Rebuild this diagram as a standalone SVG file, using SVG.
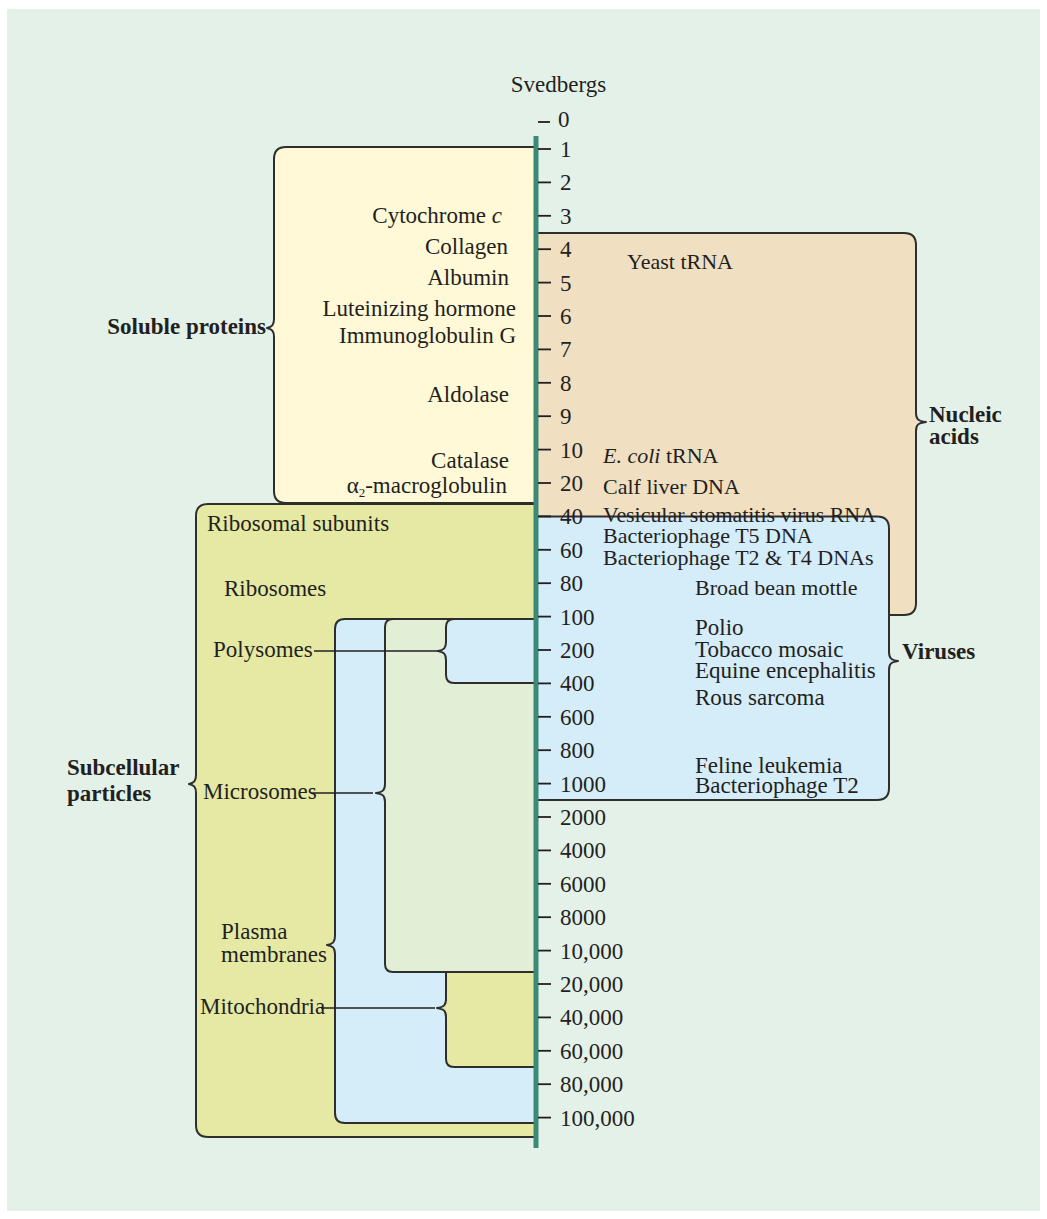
<svg xmlns="http://www.w3.org/2000/svg" width="1047" height="1219" viewBox="0 0 1047 1219">
<style>
text{font-family:"Liberation Serif","Times New Roman",serif;font-size:23px;fill:#231f20}
.b{font-weight:bold}
.r{font-size:22px}
.box{stroke:#2e2e2e;stroke-width:2;stroke-linejoin:round}
.yel{fill:#fff9d7}
.tan{fill:#f0dfc1}
.blu{fill:#d5ecf9}
.olv{fill:#e5e9a4}
.grn{fill:#e2efd6}
.tick{stroke:#231f20;stroke-width:1.8}
.lead{stroke:#231f20;stroke-width:1.6;fill:none}
</style>
<rect x="0" y="0" width="1047" height="1219" fill="#ffffff"/>
<rect x="7" y="9" width="1033" height="1202" fill="#e4f1e9"/>

<g id="soluble-proteins">
<path class="box yel" d="M536,147 L286,147 Q274,147 274,159 L274,319 C274,325 272,327 267,328 C272,329 274,331 274,337 L274,491 Q274,503 286,503 L536,503"/>
<text class="b" x="266" y="334" text-anchor="end">Soluble proteins</text>
<text x="502" y="223" text-anchor="end">Cytochrome <tspan font-style="italic">c</tspan></text>
<text x="508" y="254" text-anchor="end">Collagen</text>
<text x="509" y="285" text-anchor="end">Albumin</text>
<text x="516" y="316" text-anchor="end">Luteinizing hormone</text>
<text x="516" y="343" text-anchor="end">Immunoglobulin G</text>
<text x="509" y="402" text-anchor="end">Aldolase</text>
<text x="509" y="468" text-anchor="end">Catalase</text>
<text x="507" y="493" text-anchor="end">α<tspan font-size="13" dy="4">2</tspan><tspan dy="-4">-macroglobulin</tspan></text>
</g>

<g id="nucleic-acids">
<path class="box tan" d="M536,233 L904,233 Q916,233 916,245 L916,413 C916,419 918,421 926,422 C918,423 916,425 916,431 L916,603 Q916,615 904,615 L536,615"/>
<text class="b" x="929" y="422">Nucleic</text>
<text class="b" x="929" y="444">acids</text>
<text class="r" x="627" y="269">Yeast tRNA</text>
<text class="r" x="603" y="463"><tspan font-style="italic">E. coli</tspan> tRNA</text>
<text class="r" x="603" y="494">Calf liver DNA</text>
</g>

<g id="viruses">
<path class="box blu" d="M536,516.5 L877,516.5 Q889,516.5 889,528.5 L889,652 C889,658 891,660 898,661 C891,662 889,664 889,670 L889,788 Q889,800 877,800 L536,800"/>
<text class="b" x="902" y="659">Viruses</text>
<text class="r" x="603" y="522" textLength="273">Vesicular stomatitis virus RNA</text>
<text class="r" x="603" y="543">Bacteriophage T5 DNA</text>
<text class="r" x="603" y="565">Bacteriophage T2 &amp; T4 DNAs</text>
<text class="r" x="695" y="595">Broad bean mottle</text>
<text x="695" y="635">Polio</text>
<text x="695" y="657">Tobacco mosaic</text>
<text x="695" y="678">Equine encephalitis</text>
<text x="695" y="705">Rous sarcoma</text>
<text x="695" y="773">Feline leukemia</text>
<text x="695" y="793">Bacteriophage T2</text>
</g>

<g id="subcellular-particles">
<path class="box olv" d="M536,504 L208,504 Q196,504 196,516 L196,775 C196,781 194,783 189,784 C194,785 196,787 196,793 L196,1125 Q196,1137 208,1137 L536,1137"/>
<text class="b" x="67" y="775">Subcellular</text>
<text class="b" x="67" y="801">particles</text>
<text x="207" y="531">Ribosomal subunits</text>
<text x="224" y="596">Ribosomes</text>
</g>

<g id="plasma-membranes">
<path class="box blu" d="M536,619 L345,619 Q335,619 335,629 L335,936 C335,942 333,944 327,945 C333,946 335,948 335,954 L335,1113 Q335,1123 345,1123 L536,1123"/>
<text x="221" y="939">Plasma</text>
<text x="221" y="962">membranes</text>
</g>

<g id="microsomes">
<path class="box grn" d="M536,619 L393,619 Q385,619 385,627 L385,784 C385,790 383,792 376,793 C383,794 385,796 385,802 L385,964 Q385,972 393,972 L536,972"/>
<text x="203" y="799">Microsomes</text>
</g>

<g id="polysomes">
<path class="box blu" d="M536,619 L454,619 Q446,619 446,627 L446,642 C446,648 444,650 438,651 C444,652 446,654 446,660 L446,675 Q446,683 454,683 L536,683"/>
<text x="213" y="657">Polysomes</text>
</g>

<g id="mitochondria">
<path class="box olv" d="M536,972 L446,972 L446,999 C446,1005 444,1007 437,1008 C444,1009 446,1011 446,1017 L446,1059 Q446,1067 454,1067 L536,1067"/>
<text x="200" y="1014">Mitochondria</text>
</g>

<g id="connectors">
<line class="lead" x1="314" y1="651" x2="438" y2="651"/>
<line class="lead" x1="313" y1="793" x2="373" y2="793"/>
<line class="lead" x1="321" y1="1008" x2="435" y2="1008"/>
</g>

<g id="axis">
<rect x="533.5" y="136" width="5" height="1012" fill="#3b8a78"/>
<text x="558.5" y="92" text-anchor="middle">Svedbergs</text>
<line class="tick" x1="538" y1="122" x2="550" y2="122"/>
<text x="558" y="127">0</text>
<g class="tick">
<line x1="538" y1="149" x2="551" y2="149"/>
<line x1="538" y1="182.4" x2="551" y2="182.4"/>
<line x1="538" y1="215.8" x2="551" y2="215.8"/>
<line x1="538" y1="249.2" x2="551" y2="249.2"/>
<line x1="538" y1="282.6" x2="551" y2="282.6"/>
<line x1="538" y1="316" x2="551" y2="316"/>
<line x1="538" y1="349.4" x2="551" y2="349.4"/>
<line x1="538" y1="382.8" x2="551" y2="382.8"/>
<line x1="538" y1="416.2" x2="551" y2="416.2"/>
<line x1="538" y1="449.6" x2="551" y2="449.6"/>
<line x1="538" y1="483" x2="551" y2="483"/>
<line x1="538" y1="516.4" x2="551" y2="516.4"/>
<line x1="538" y1="549.8" x2="551" y2="549.8"/>
<line x1="538" y1="583.2" x2="551" y2="583.2"/>
<line x1="538" y1="616.6" x2="551" y2="616.6"/>
<line x1="538" y1="650" x2="551" y2="650"/>
<line x1="538" y1="683.4" x2="551" y2="683.4"/>
<line x1="538" y1="716.8" x2="551" y2="716.8"/>
<line x1="538" y1="750.2" x2="551" y2="750.2"/>
<line x1="538" y1="783.6" x2="551" y2="783.6"/>
<line x1="538" y1="817" x2="551" y2="817"/>
<line x1="538" y1="850.4" x2="551" y2="850.4"/>
<line x1="538" y1="883.8" x2="551" y2="883.8"/>
<line x1="538" y1="917.2" x2="551" y2="917.2"/>
<line x1="538" y1="950.6" x2="551" y2="950.6"/>
<line x1="538" y1="984" x2="551" y2="984"/>
<line x1="538" y1="1017.4" x2="551" y2="1017.4"/>
<line x1="538" y1="1050.8" x2="551" y2="1050.8"/>
<line x1="538" y1="1084.2" x2="551" y2="1084.2"/>
<line x1="538" y1="1117.6" x2="551" y2="1117.6"/>
</g>
<text x="560" y="157">1</text>
<text x="560" y="190.4">2</text>
<text x="560" y="223.8">3</text>
<text x="560" y="257.2">4</text>
<text x="560" y="290.6">5</text>
<text x="560" y="324">6</text>
<text x="560" y="357.4">7</text>
<text x="560" y="390.8">8</text>
<text x="560" y="424.2">9</text>
<text x="560" y="457.6">10</text>
<text x="560" y="491">20</text>
<text x="560" y="524.4">40</text>
<text x="560" y="557.8">60</text>
<text x="560" y="591.2">80</text>
<text x="560" y="624.6">100</text>
<text x="560" y="658">200</text>
<text x="560" y="691.4">400</text>
<text x="560" y="724.8">600</text>
<text x="560" y="758.2">800</text>
<text x="560" y="791.6">1000</text>
<text x="560" y="825">2000</text>
<text x="560" y="858.4">4000</text>
<text x="560" y="891.8">6000</text>
<text x="560" y="925.2">8000</text>
<text x="560" y="958.6">10,000</text>
<text x="560" y="992">20,000</text>
<text x="560" y="1025.4">40,000</text>
<text x="560" y="1058.8">60,000</text>
<text x="560" y="1092.2">80,000</text>
<text x="560" y="1125.6">100,000</text>
</g>
</svg>
